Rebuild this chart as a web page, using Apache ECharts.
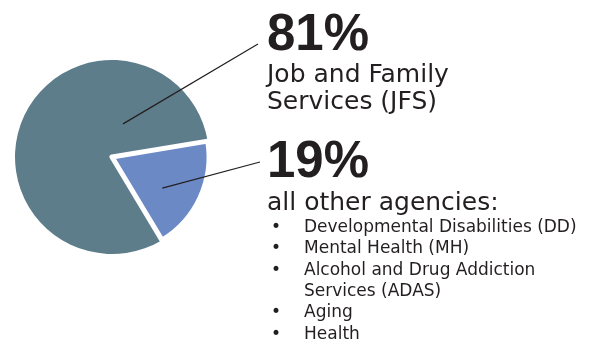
<!DOCTYPE html>
<html>
<head>
<meta charset="utf-8">
<script src="https://cdn.jsdelivr.net/npm/echarts@6/dist/echarts.min.js"></script>
<style>
  html, body { margin: 0; padding: 0; background: #ffffff; }
  #chart { width: 594px; height: 345px; }
</style>
</head>
<body>
<div id="chart"></div>
<script>
// Share of spending by agency group
const categories = ['Job and Family\nServices (JFS)', 'all other agencies:'];
const shares = [81, 19];
const otherAgencies = [
  ['Developmental Disabilities (DD)'],
  ['Mental Health (MH)'],
  ['Alcohol and Drug Addiction', 'Services (ADAS)'],
  ['Aging'],
  ['Health']
];

// Layout (pixels)
const CENTER = [112, 157];
const RADIUS = 97;
const START_ANGLE = 301;
const sliceColors = ['#5e7d8b', '#6a89c5'];
const ink = '#231f20';
// where each leader starts (angle in degrees, fraction of radius) and where each label block sits
const leaderAnchor = [
  { angle: 71.6, r: 0.36, end: [258, 44], label: [267, 10] },
  { angle: -31.8, r: 0.61, end: [260, 162], label: [267, 137] }
];

function leaderStart(a) {
  const rad = a.angle * Math.PI / 180;
  return [
    CENTER[0] + Math.cos(rad) * RADIUS * a.r,
    CENTER[1] - Math.sin(rad) * RADIUS * a.r
  ];
}

function labelText(i) {
  const pct = '{pct|' + shares[i] + '%}';
  if (i === 0) {
    return pct + '\n' + categories[0].split('\n').map(s => '{sub|' + s + '}').join('\n');
  }
  const lines = [pct, '{head|' + categories[1] + '}'];
  otherAgencies.forEach(item => {
    item.forEach((part, k) => {
      lines.push((k === 0 ? '{dot|•}' : '{gap| }') + '{li|' + part + '}');
    });
  });
  return lines.join('\n');
}

const chart = echarts.init(document.getElementById('chart'), null, { renderer: 'canvas' });

chart.setOption({
  animation: false,
  // leader lines from inside each slice to its label block, drawn above the slices
  graphic: leaderAnchor.map(a => ({
    type: 'polyline',
    z: 100,
    silent: true,
    shape: { points: [leaderStart(a), a.end] },
    style: { stroke: ink, lineWidth: 1.2, fill: null }
  })),
  series: [{
    type: 'pie',
    center: CENTER,
    radius: [0, RADIUS],
    startAngle: START_ANGLE,
    clockwise: true,
    avoidLabelOverlap: false,
    emphasis: { disabled: true },
    data: shares.map((v, i) => ({
      name: categories[i],
      value: v,
      itemStyle: i === 1
        ? { color: sliceColors[i], borderColor: '#ffffff', borderWidth: 5 }
        : { color: sliceColors[i], borderWidth: 0 }
    })),
    label: {
      show: true,
      position: 'outside',
      color: ink,
      formatter: p => labelText(p.dataIndex),
      rich: {
        pct: { fontFamily: 'Liberation Sans', fontWeight: 'bold', fontSize: 51, lineHeight: 52, color: ink },
        sub: { fontFamily: 'DejaVu Sans', fontSize: 25, lineHeight: 27, color: ink },
        head: { fontFamily: 'DejaVu Sans', fontSize: 25, lineHeight: 28, color: ink },
        dot: { fontFamily: 'DejaVu Sans', fontSize: 17, lineHeight: 21.3, width: 33, padding: [0, 0, 0, 4], color: ink },
        gap: { fontFamily: 'DejaVu Sans', fontSize: 17, lineHeight: 21.3, width: 33, padding: [0, 0, 0, 4], color: ink },
        li: { fontFamily: 'DejaVu Sans', fontSize: 17, lineHeight: 21.3, color: ink }
      }
    },
    labelLine: { show: false },
    labelLayout: params => {
      const a = leaderAnchor[params.dataIndex];
      return { x: a.label[0], y: a.label[1], align: 'left', verticalAlign: 'top' };
    }
  }]
});
</script>
</body>
</html>
